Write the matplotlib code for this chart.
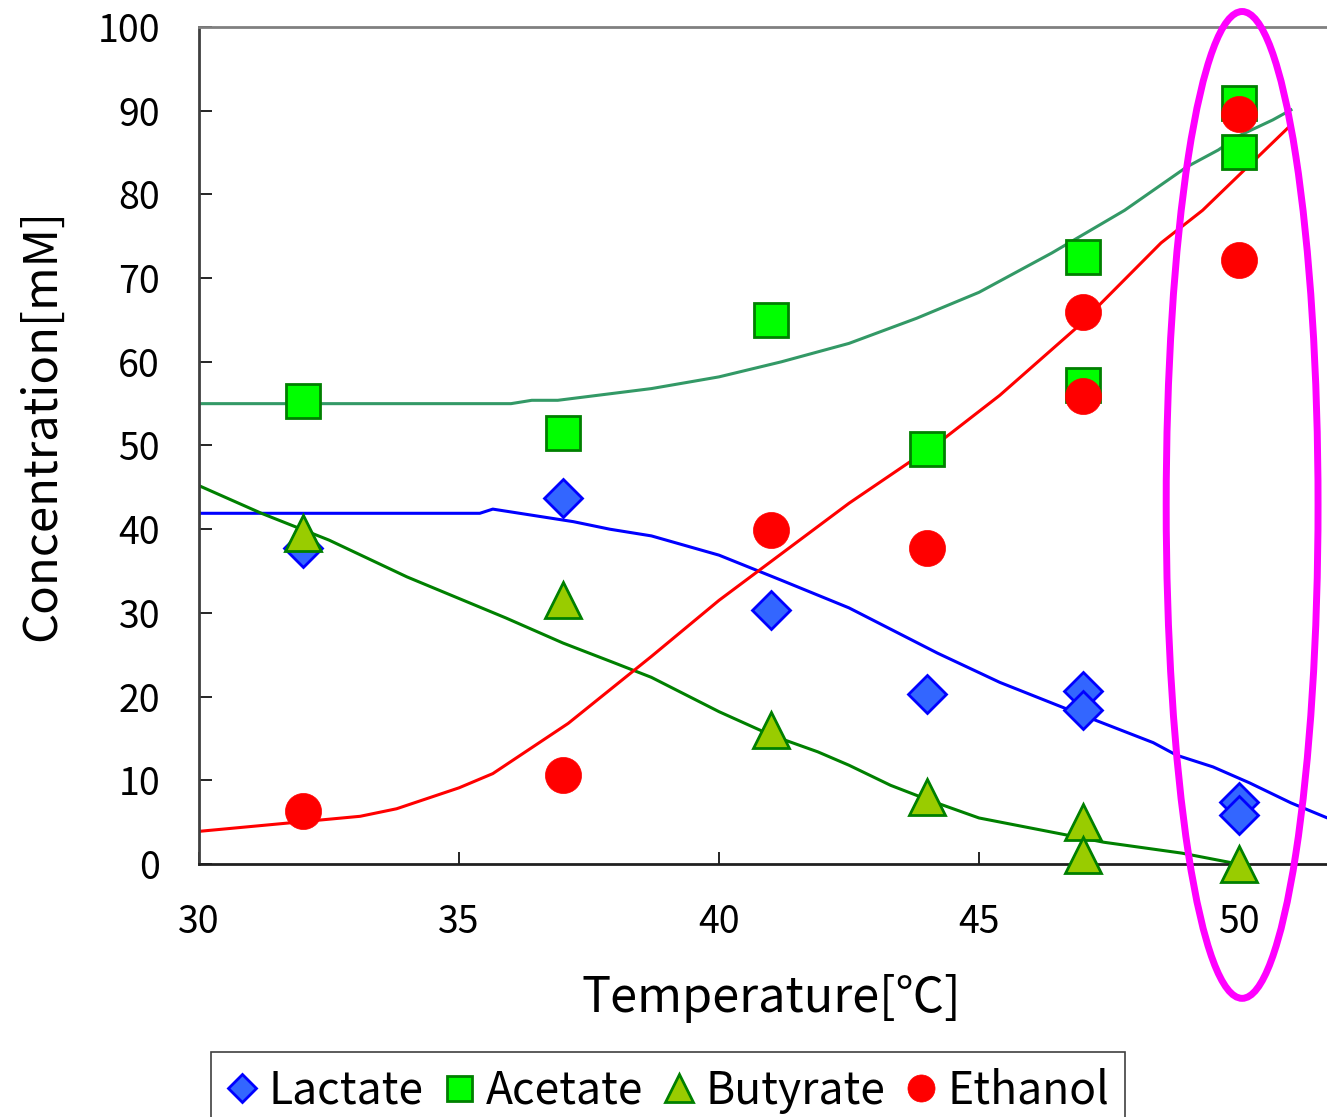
#!/usr/bin/env python3
"""
Fermentation products vs. temperature (Lactate / Acetate / Butyrate / Ethanol)
"""

import matplotlib
matplotlib.use('Agg')
import matplotlib.pyplot as plt
from matplotlib.patches import Ellipse

plt.rcParams['font.family'] = ['Noto Sans CJK JP', 'DejaVu Sans']

# measured points
lactate_x = [32, 37, 41, 44, 47, 47, 50, 50]
lactate_y = [37.8, 43.7, 30.3, 20.3, 20.7, 18.4, 7.4, 5.9]

acetate_x = [32, 37, 41, 44, 47, 47, 50, 50]
acetate_y = [55.3, 51.5, 65.0, 49.6, 72.5, 57.2, 90.9, 85.1]

butyrate_x = [32, 37, 41, 44, 47, 47, 50]
butyrate_y = [39.5, 31.5, 16.0, 8.0, 5.0, 1.1, 0.0]

ethanol_x = [32, 37, 41, 44, 47, 47, 50, 50]
ethanol_y = [6.3, 10.6, 39.9, 37.8, 66.0, 55.9, 89.6, 72.2]

# trend lines
lactate_fit_x = [30, 35.4, 35.65, 37.2, 37.9, 38.7, 40.0, 41.2, 42.5, 44.2, 45.4,
                 46.9, 48.35, 48.8, 49.5, 50.2, 51.0, 51.7]
lactate_fit_y = [41.9, 41.9, 42.4, 40.9, 40.0, 39.2, 36.9, 33.9, 30.6, 25.2, 21.7,
                 18.0, 14.5, 13.0, 11.6, 9.7, 7.3, 5.5]

acetate_fit_x = [30, 36.0, 36.4, 36.9, 38.7, 40.0, 41.2, 42.5, 43.8, 45.0, 46.4,
                 47.8, 49.0, 49.6, 50.0, 50.65, 51.0]
acetate_fit_y = [55.0, 55.0, 55.4, 55.4, 56.8, 58.2, 60.0, 62.2, 65.2, 68.3, 73.0,
                 78.1, 83.3, 85.3, 87.0, 88.9, 90.1]

butyrate_fit_x = [30, 31.2, 32.5, 34.0, 35.9, 37.0, 38.0, 38.7, 40.0, 41.0, 41.9,
                  42.5, 43.3, 44.05, 45.0, 47.4, 48.9, 49.9]
butyrate_fit_y = [45.2, 41.9, 38.7, 34.3, 29.4, 26.4, 24.0, 22.3, 18.2, 15.4, 13.4,
                  11.8, 9.4, 7.6, 5.5, 2.6, 1.3, 0.1]

ethanol_fit_x = [30, 33.1, 33.8, 35.0, 35.65, 37.1, 38.7, 40.0, 42.5, 44.3, 45.4,
                 46.9, 48.5, 49.3, 51.0]
ethanol_fit_y = [3.9, 5.7, 6.6, 9.1, 10.8, 16.8, 24.8, 31.5, 43.1, 50.7, 56.0,
                 64.2, 74.2, 78.1, 88.3]

x_ticks = [30, 35, 40, 45, 50]
y_ticks = [0, 10, 20, 30, 40, 50, 60, 70, 80, 90, 100]

W, H = 1327, 1117
fig = plt.figure(figsize=(W / 100, H / 100), dpi=100)
ax = fig.add_axes([199 / W, (H - 864) / H, (W - 199) / W, (864 - 27) / H])

# trend lines
ax.plot(acetate_fit_x, acetate_fit_y, color='#339966', lw=2.2, zorder=2)
ax.plot(lactate_fit_x, lactate_fit_y, color='#0000ff', lw=2.2, zorder=2)
ax.plot(butyrate_fit_x, butyrate_fit_y, color='#008000', lw=2.2, zorder=2)
ax.plot(ethanol_fit_x, ethanol_fit_y, color='#ff0000', lw=2.2, zorder=2)

# data points
ax.plot(lactate_x, lactate_y, 'D', ms=19.5, mfc='#3366ff', mec='#0000ff', mew=2.0,
        ls='none', label='Lactate', zorder=3, clip_on=False)
ax.plot(acetate_x, acetate_y, 's', ms=24, mfc='#00ff00', mec='#008000', mew=2.0,
        ls='none', label='Acetate', zorder=3, clip_on=False)
ax.plot(butyrate_x, butyrate_y, '^', ms=26, mfc='#99cc00', mec='#008000', mew=2.0,
        ls='none', label='Butyrate', zorder=3, clip_on=False)
ax.plot(ethanol_x, ethanol_y, 'o', ms=26, mfc='#ff0000', mec='#ff0000', mew=0.5,
        ls='none', label='Ethanol', zorder=3, clip_on=False)

# highlight around 50 degC
ell = Ellipse((50.06, 42.9), 2.92, 117.9, fill=False, edgecolor='#ff00ff',
              lw=5, zorder=5, clip_on=False)
ax.add_patch(ell)

ax.set_xlim(30, 30 + (W - 199) / 52)
ax.set_ylim(0, 100)
ax.set_xticks(x_ticks)
ax.set_yticks(y_ticks)
ax.tick_params(direction='in', length=9, width=1.2, labelsize=27, pad=28, color='black')

ax.spines['right'].set_visible(False)
ax.spines['left'].set_color('#404040')
ax.spines['bottom'].set_color('#202020')
ax.spines['top'].set_color('#808080')
for s in ['left', 'bottom', 'top']:
    ax.spines[s].set_linewidth(2.0)

fig.text(771 / W, 1 - 998 / H, 'Temperature[℃]', fontsize=35, ha='center', va='center')
fig.text(42 / W, 1 - 425 / H, 'Concentration[mM]', fontsize=34, ha='center', va='center',
         rotation=90)

leg = fig.legend(loc='upper left', bbox_to_anchor=(211 / W, 1 - 1052 / H), ncol=4,
                 fontsize=32, markerscale=0.75, handlelength=0.7, handletextpad=0.25,
                 columnspacing=0.45, borderpad=0.35, borderaxespad=0, fancybox=False,
                 framealpha=1)
leg.get_frame().set_edgecolor('#404040')
leg.get_frame().set_linewidth(1.2)

fig.savefig('out.png', dpi=100)
